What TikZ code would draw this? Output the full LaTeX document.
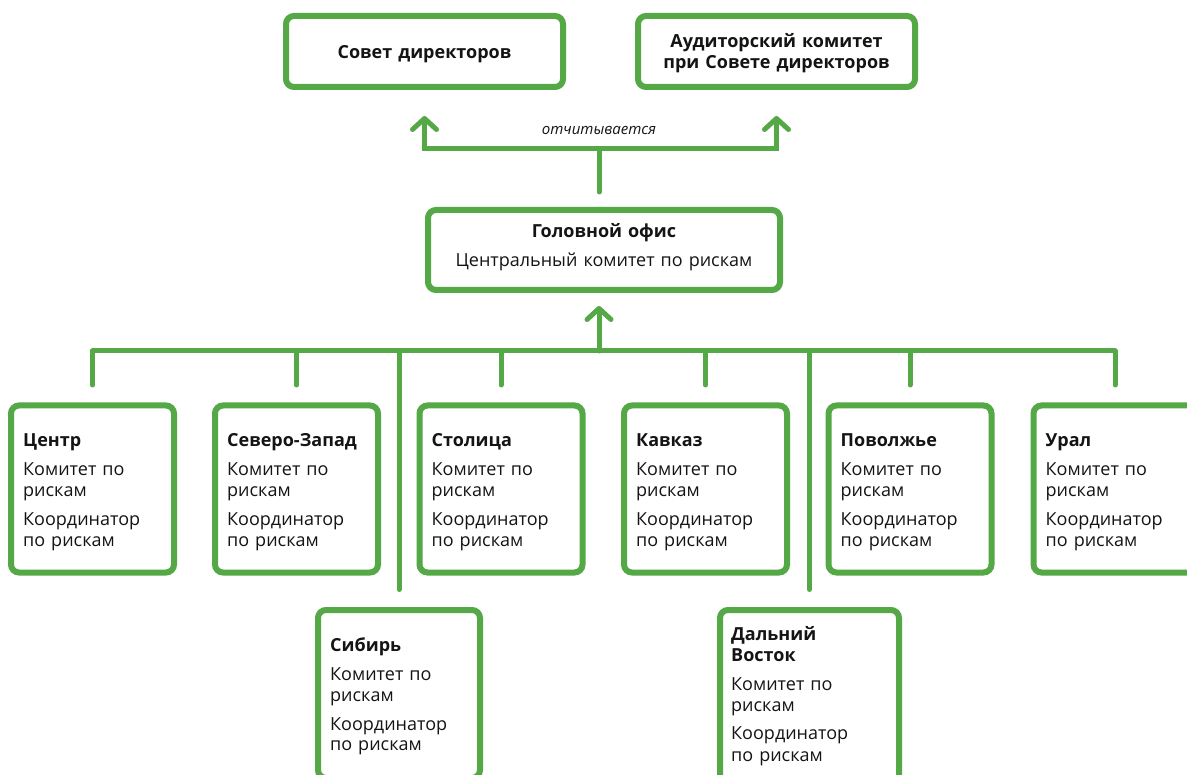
\documentclass[tikz,border=0pt]{standalone}
\usepackage{fontspec}
\setmainfont{Open Sans}
\usetikzlibrary{arrows.meta}
\definecolor{grn}{RGB}{84,168,70}
\definecolor{ink}{RGB}{20,20,20}
\tikzset{
  box/.style={draw=grn, line width=6pt, rounded corners=8pt, fill=white, inner sep=0pt},
  rowbox/.style={box, minimum width=163pt, minimum height=167pt},
  conn/.style={draw=grn, line width=5pt, line cap=round, line join=miter},
  tipup/.style={-{Straight Barb[length=11pt,width=24pt,round]}},
  txt/.style={inner sep=0pt, text=ink, font=\fontsize{18}{21}\selectfont, align=left, text width=150pt, anchor=base west},
  ctxt/.style={inner sep=0pt, text=ink, font=\fontsize{18}{21}\selectfont, align=center, text width=300pt, anchor=base},
}
\begin{document}
\begin{tikzpicture}[x=1pt,y=-1pt]
\useasboundingbox (0,0) rectangle (1187,775);
\fill[white] (0,0) rectangle (1187,775);
\clip (0,0) rectangle (1187,775);

% top boxes
\node[box, minimum width=277pt, minimum height=71pt] (sovet) at (424.5,51.5) {};
\node[box, minimum width=277pt, minimum height=71pt] (audit) at (776.5,51.5) {};
\node[ctxt] (sovetT) at (424.5,59) {\textbf{Совет директоров}};
\node[ctxt] (auditT) at (776.5,48) {\textbf{Аудиторский комитет}\\\textbf{при Совете директоров}};

% head office
\node[box, minimum width=352pt, minimum height=80pt] (head) at (604,250) {};
\node[ctxt] (headT) at (604,238) {\textbf{Головной офис}\\[8pt]Центральный комитет по рискам};

% reporting connectors
\coordinate (stemB) at (599,192);
\coordinate (junc) at (599,149);
\draw[conn] (stemB) -- (junc);
\draw[conn, {Straight Barb[length=11pt,width=24pt,round]}-{Straight Barb[length=11pt,width=24pt,round]}]
  ([yshift=-26pt]sovet.south) |- (junc) -| ([yshift=-26pt]audit.south);
\node[inner sep=0pt, text=ink, font=\fontsize{15}{18}\selectfont\itshape, anchor=base] (rep) at (599,135) {отчитывается};

% regional boxes
\node[rowbox] (centr) at (92.5,489) {};
\node[rowbox] (nw) at (296.5,489) {};
\node[rowbox] (stol) at (501,489) {};
\node[rowbox] (kavk) at (705.5,489) {};
\node[rowbox] (povo) at (910,489) {};
\node[rowbox] (ural) at (1115,489) {};
\node[box, minimum width=162pt, minimum height=168pt] (sib) at (399,694) {};
\node[box, minimum width=179pt, minimum height=190pt] (fe) at (809.5,705) {};

\node[txt] (centrT) at (23,447) {\textbf{Центр}\\[8pt]Комитет по\\рискам\\[8pt]Координатор\\по рискам};
\node[txt] (nwT) at (227,447) {\textbf{Северо-Запад}\\[8pt]Комитет по\\рискам\\[8pt]Координатор\\по рискам};
\node[txt] (stolT) at (431.5,447) {\textbf{Столица}\\[8pt]Комитет по\\рискам\\[8pt]Координатор\\по рискам};
\node[txt] (kavkT) at (636,447) {\textbf{Кавказ}\\[8pt]Комитет по\\рискам\\[8pt]Координатор\\по рискам};
\node[txt] (povoT) at (840.5,447) {\textbf{Поволжье}\\[8pt]Комитет по\\рискам\\[8pt]Координатор\\по рискам};
\node[txt] (uralT) at (1045.5,447) {\textbf{Урал}\\[8pt]Комитет по\\рискам\\[8pt]Координатор\\по рискам};
\node[txt] (sibT) at (330,651) {\textbf{Сибирь}\\[8pt]Комитет по\\рискам\\[8pt]Координатор\\по рискам};
\node[txt] (feT) at (731,640) {\textbf{Дальний}\\\textbf{Восток}\\[8pt]Комитет по\\рискам\\[8pt]Координатор\\по рискам};

% bus
\coordinate (busY) at (0,351);
\coordinate (bushub) at (599,351);
\draw[conn] (busY -| centr.north) -- (busY -| ural.north);
\draw[conn, tipup, shorten >=13pt] (bushub) -- (bushub |- head.south);
\foreach \b in {centr,nw,stol,kavk,povo,ural,sib,fe}
  \draw[conn, shorten >=17.5pt] (busY -| \b.north) -- (\b.north);
\end{tikzpicture}
\end{document}
